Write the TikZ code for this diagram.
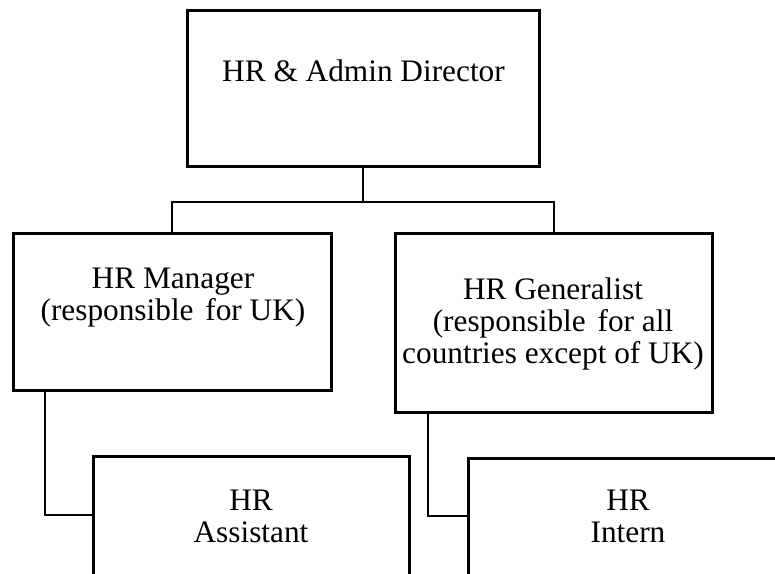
\documentclass[tikz,border=0pt]{standalone}
\usepackage{fontspec}
\setmainfont{Liberation Serif}
\begin{document}
\begin{tikzpicture}[x=1pt,y=-1pt,
  orgbox/.style={draw, line width=3pt, rectangle, inner sep=0pt, fill=white},
  link/.style={line width=2pt},
  boxtext/.style={anchor=base, inner sep=0pt,
    font=\fontsize{31.3}{32.3}\selectfont},
]
\useasboundingbox (0,0) rectangle (775,573);
\clip (0,0) rectangle (775,573);
\fill[white] (0,0) rectangle (775,573);

% boxes
\node[orgbox, minimum width=352pt, minimum height=156pt] (dir) at (363,88) {};
\node[orgbox, minimum width=318pt, minimum height=157pt] (mgr) at (172,311.5) {};
\node[orgbox, minimum width=317pt, minimum height=179pt] (gen) at (553.5,322.5) {};
\node[orgbox, minimum width=316pt, minimum height=184pt] (asst) at (251,548) {};
\node[orgbox, minimum width=318pt, minimum height=182pt] (intern) at (627,549) {};

% labels
\node[boxtext] (dirtxt) at (363.5,81) {HR \& Admin Director};
\node[boxtext] (mgrtxt) at (173,288)
  {\begin{tabular}[t]{@{}c@{}}HR Manager\\(responsible\hspace{4pt} for UK)\end{tabular}};
\node[boxtext] (gentxt) at (553,299)
  {\begin{tabular}[t]{@{}c@{}}HR Generalist\\(responsible\hspace{4pt} for all\\countries except of UK)\end{tabular}};
\node[boxtext] (assttxt) at (251,510)
  {\begin{tabular}[t]{@{}c@{}}HR\\Assistant\end{tabular}};
\node[boxtext] (interntxt) at (628,510)
  {\begin{tabular}[t]{@{}c@{}}HR\\Intern\end{tabular}};

% connectors
\draw[link] (dir.south) -- ++(0,34) coordinate (bus);
\draw[link] (mgr.north) |- (bus) -| (gen.north);
\draw[link] ([xshift=33.7pt]mgr.south west) |- ([yshift=-60pt]asst.north west);
\draw[link] ([xshift=34pt]gen.south west) |- ([yshift=-59pt]intern.north west);
\end{tikzpicture}
\end{document}
